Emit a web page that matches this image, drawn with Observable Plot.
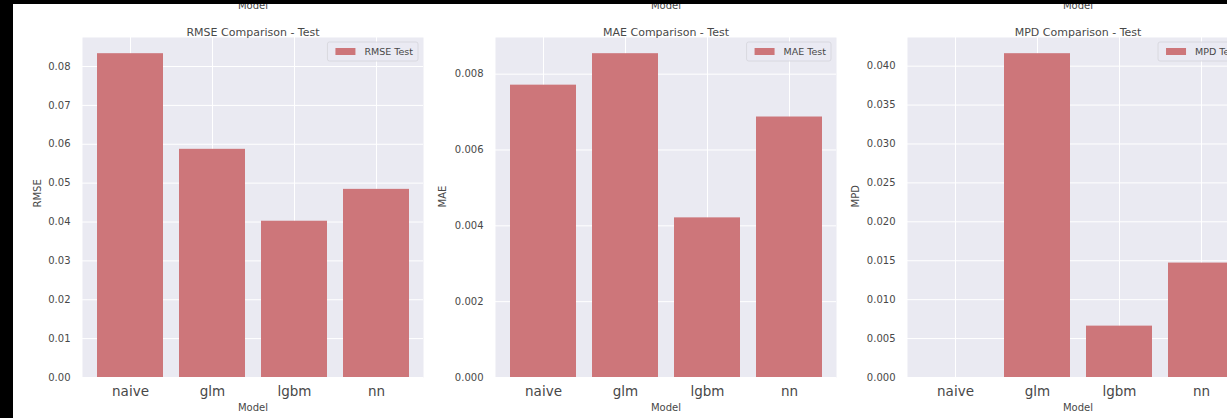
<!DOCTYPE html>
<html>
<head>
<meta charset="utf-8">
<script src="https://cdn.jsdelivr.net/npm/d3@7"></script>
<script src="https://cdn.jsdelivr.net/npm/@observablehq/plot@0.6"></script>
<style>
  html, body { margin: 0; padding: 0; background: #fff; }
  #wrap { position: relative; width: 1227px; height: 418px; overflow: hidden; background: #fff;
          font-family: "DejaVu Sans", sans-serif; }
  #wrap svg { position: absolute; top: 0; }
  .edge { position: absolute; background: #000; }
</style>
</head>
<body>
<div id="wrap"></div>
<script>
// Test-set error metrics per model
const models = ["naive", "glm", "lgbm", "nn"];
const rmseTest = [0.0833, 0.0587, 0.0402, 0.0484];
const maeTest = [0.00771, 0.00854, 0.00421, 0.00687];
const mpdTest = [0, 0.0416, 0.0066, 0.0147];

// y tick values for each panel
const rmseTicks = [0, 0.01, 0.02, 0.03, 0.04, 0.05, 0.06, 0.07, 0.08];
const maeTicks = [0, 0.002, 0.004, 0.006, 0.008];
const mpdTicks = [0, 0.005, 0.01, 0.015, 0.02, 0.025, 0.03, 0.035, 0.04];

const BG = "#EAEAF2";
const BAR = "#CD767A";
const INK = "#484848";
const wrap = document.getElementById("wrap");

function panel({values, ticks, fmt, label, title, legend, left, width, ml, mr, labelDx}) {
  const data = models.map((m, i) => ({model: m, value: values[i]}));
  const ymax = d3.max(values) * 1.05;
  const svg = Plot.plot({
    width, height: 418,
    marginLeft: ml, marginRight: mr, marginTop: 37, marginBottom: 41,
    style: {background: "transparent", fontFamily: "DejaVu Sans, sans-serif", color: INK, overflow: "visible"},
    x: {domain: models, paddingInner: 0.2, paddingOuter: 0.167, label: null},
    y: {domain: [0, ymax], label: null},
    marks: [
      Plot.frame({fill: BG, stroke: "none"}),
      Plot.gridY(ticks, {stroke: "#fff", strokeOpacity: 1, strokeWidth: 1}),
      Plot.gridX(models, {stroke: "#fff", strokeOpacity: 1, strokeWidth: 1}),
      Plot.barY(data, {x: "model", y: "value", fill: BAR}),
      Plot.axisY(ticks, {tickSize: 0, tickPadding: 12, tickFormat: fmt, fontSize: 10, fill: INK, label: null}),
      Plot.axisX({tickSize: 0, tickPadding: 9, fontSize: 13.5, fill: INK, label: null}),
      Plot.text([title], {frameAnchor: "top", dy: -9, fontSize: 11, fill: INK}),
      Plot.text(["Model"], {frameAnchor: "bottom", dy: 33, fontSize: 10, fill: INK}),
      Plot.text(["Model"], {frameAnchor: "top", dy: -35.5, fontSize: 10, fill: INK}),
      Plot.text([label], {frameAnchor: "left", dx: labelDx, rotate: -90, fontSize: 10, fill: INK})
    ]
  });
  svg.style.left = left + "px";
  wrap.appendChild(svg);

  // legend box in the upper right corner of the axes
  const s = d3.select(svg);
  const right = width - mr - 5, top = 42, h = 19;
  const g = s.append("g");
  const box = g.append("rect");
  const txt = g.append("text")
    .attr("font-size", 9.5).attr("fill", INK)
    .attr("font-family", "DejaVu Sans, sans-serif")
    .attr("text-anchor", "start")
    .attr("dy", "0.35em")
    .text(legend);
  const tw = txt.node().getComputedTextLength();
  const x0 = right - (8 + 20 + 9 + tw + 5);
  box.attr("x", x0).attr("y", top).attr("width", right - x0).attr("height", h)
    .attr("rx", 2).attr("fill", BG).attr("fill-opacity", 0.8)
    .attr("stroke", "#d4d4da").attr("stroke-width", 0.8);
  g.insert("rect", "text")
    .attr("x", x0 + 8).attr("y", top + h / 2 - 3.5).attr("width", 20).attr("height", 7)
    .attr("fill", BAR);
  txt.attr("x", x0 + 37).attr("y", top + h / 2);
}

panel({values: rmseTest, ticks: rmseTicks, fmt: d3.format(".2f"), label: "RMSE",
       title: "RMSE Comparison - Test", legend: "RMSE Test",
       left: 0, width: 440, ml: 82, mr: 17, labelDx: -45});
panel({values: maeTest, ticks: maeTicks, fmt: d3.format(".3f"), label: "MAE",
       title: "MAE Comparison - Test", legend: "MAE Test",
       left: 430, width: 420, ml: 65, mr: 14, labelDx: -53});
panel({values: mpdTest, ticks: mpdTicks, fmt: d3.format(".3f"), label: "MPD",
       title: "MPD Comparison - Test", legend: "MPD Test",
       left: 850, width: 420, ml: 57, mr: 22, labelDx: -52});

// dark borders along the top and left edges
for (const [l, t, w, h] of [[0, 0, 13, 418], [0, 0, 1227, 4]]) {
  const d = document.createElement("div");
  d.className = "edge";
  Object.assign(d.style, {left: l + "px", top: t + "px", width: w + "px", height: h + "px"});
  wrap.appendChild(d);
}
</script>
</body>
</html>
